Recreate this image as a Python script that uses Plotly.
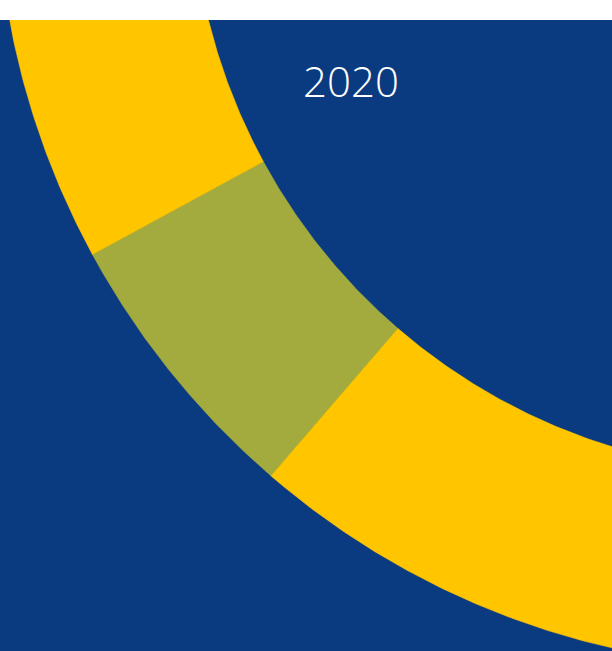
import numpy as np
import plotly.graph_objects as go

# ---- data ----
labels = ["2020", "Rest"]
values = [5.76, 94.24]          # percent of the full ring
colors = ["#A3AA3E", "#FFC600"]
year_label = "2020"

# ---- layout / geometry parameters ----
hole = 0.754                     # inner radius / outer radius
start_angle = 229.25             # degrees (math convention) where first slice starts, slices run clockwise
bg_blue = "#0A3A80"

fig = go.Figure()
total = float(sum(values))
a0 = start_angle
for lab, v, c in zip(labels, values, colors):
    span = 360.0 * v / total
    th = np.radians(np.linspace(a0, a0 - span, max(int(span * 4), 20)))
    xo, yo = np.cos(th), np.sin(th)
    xi, yi = hole * np.cos(th[::-1]), hole * np.sin(th[::-1])
    xs = np.concatenate([xo, xi, xo[:1]])
    ys = np.concatenate([yo, yi, yo[:1]])
    fig.add_trace(go.Scatter(x=xs, y=ys, mode="lines", fill="toself",
                             fillcolor=c, line=dict(color=c, width=0.6),
                             name=lab, hoverinfo="skip", showlegend=False))
    a0 -= span

fig.add_annotation(x=-0.5516, y=-0.2574, text=year_label, showarrow=False,
                   font=dict(family="Open Sans", size=42, color="white", weight=300),
                   xanchor="center", yanchor="middle")

fig.update_xaxes(range=[-0.99557, -0.22148], visible=False, fixedrange=True)
fig.update_yaxes(range=[-0.97900, -0.18088], visible=False, fixedrange=True)
fig.update_layout(width=612, height=651,
                  margin=dict(l=0, r=0, t=20, b=0, pad=0),
                  paper_bgcolor="white", plot_bgcolor=bg_blue,
                  showlegend=False)

fig.write_html("out.html", config={"displayModeBar": False},
               post_script="document.body.style.margin='0';")
